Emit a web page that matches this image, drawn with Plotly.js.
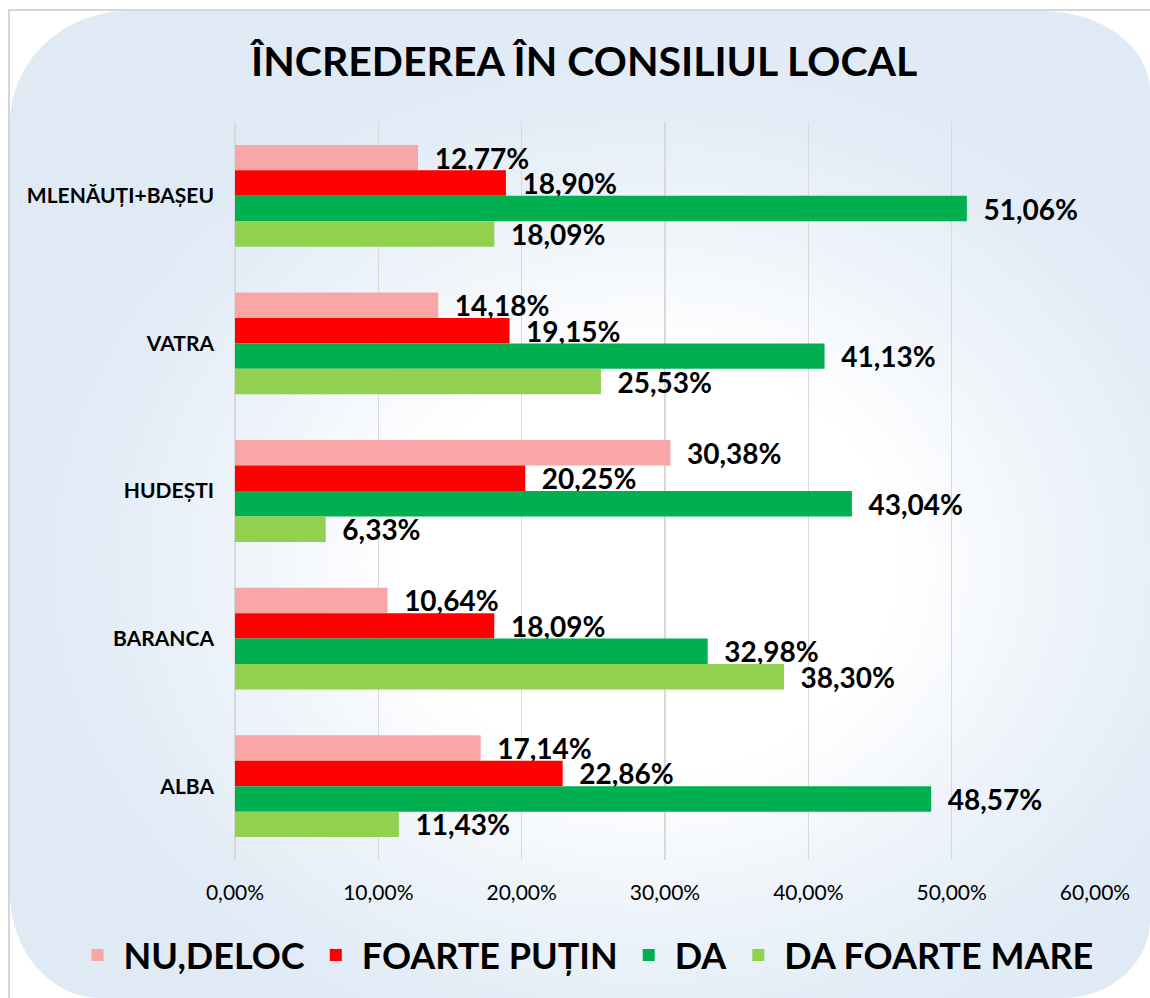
<!DOCTYPE html>
<html>
<head>
<meta charset="utf-8">
<script src="https://cdn.plot.ly/plotly-3.0.1.min.js"></script>
<style>
  html, body { margin: 0; padding: 0; background: #ffffff; width: 1150px; height: 998px; overflow: hidden; }
  #frame { position: absolute; left: 8px; top: 9px; width: 1142px; height: 989px; border-top: 2px solid #d6d6d6; border-left: 2px solid #d6d6d6; box-sizing: border-box; }
  #bg { position: absolute; left: 10px; top: 11px; width: 1140px; height: 987px;
        border-radius: 118px 108px 87px 90px / 112px 80px 78px 105px;
        background: radial-gradient(ellipse 60% 58% at 56% 56%, #ffffff 0%, #ffffff 36%, #eff4fa 60%, #e2ecf6 82%, #dfeaf5 100%); }
  #chart { position: absolute; left: 0; top: 0; width: 1150px; height: 998px; }
</style>
</head>
<body>
<div id="frame"></div>
<div id="bg"></div>
<div id="chart"></div>
<script>
const categories = ["MLENĂUȚI+BAȘEU", "VATRA", "HUDEȘTI", "BARANCA", "ALBA"];
const seriesNames = ["NU,DELOC", "FOARTE PUȚIN", "DA", "DA FOARTE MARE"];
const nuDeloc = [12.77, 14.18, 30.38, 10.64, 17.14];
const foartePutin = [18.90, 19.15, 20.25, 18.09, 22.86];
const da = [51.06, 41.13, 43.04, 32.98, 48.57];
const daFoarteMare = [18.09, 25.53, 6.33, 38.30, 11.43];
const xTicks = [0, 10, 20, 30, 40, 50, 60];
const xTickText = xTicks.map(v => v.toFixed(2).replace(".", ",") + "%");

const colors = ["#f9a6a6", "#ff0000", "#00b050", "#92d050"];
const values = [nuDeloc, foartePutin, da, daFoarteMare];
const FONT = "Lato, 'Open Sans', sans-serif";

const traces = values.map((v, i) => ({
  type: "bar",
  orientation: "h",
  name: seriesNames[i],
  y: categories,
  x: v,
  marker: { color: colors[i], line: { width: 0 } },
  texttemplate: "\u00a0\u00a0%{x:.2f}%",
  textposition: "outside",
  constraintext: "none",
  cliponaxis: false,
  textfont: { family: FONT, size: 28, color: "#000000", weight: 700 },
  hoverinfo: "skip"
}));

const layout = {
  width: 1150,
  height: 998,
  paper_bgcolor: "rgba(0,0,0,0)",
  plot_bgcolor: "rgba(0,0,0,0)",
  separators: ",.",
  margin: { l: 235, r: 55, t: 122, b: 138, pad: 0 },
  barmode: "group",
  bargap: 0.31,
  bargroupgap: 0,
  title: {
    text: "ÎNCREDEREA ÎN CONSILIUL LOCAL",
    font: { family: FONT, size: 41, color: "#000000", weight: 700 },
    x: 0.508, xref: "container", xanchor: "center",
    y: 0.938, yref: "container", yanchor: "middle"
  },
  xaxis: {
    range: [0, 60],
    tickmode: "array",
    tickvals: xTicks,
    ticktext: xTickText,
    showgrid: true,
    gridcolor: "#d9d9d9",
    gridwidth: 1.5,
    zeroline: true,
    zerolinecolor: "#d9d9d9",
    zerolinewidth: 1.5,
    showline: false,
    ticks: "",
    ticklabelstandoff: 18,
    tickfont: { family: FONT, size: 21, color: "#000000" },
    fixedrange: true
  },
  yaxis: {
    type: "category",
    categoryorder: "array",
    categoryarray: categories,
    autorange: "reversed",
    showgrid: false,
    zeroline: false,
    showline: false,
    ticks: "",
    ticklabelstandoff: 20,
    tickfont: { family: FONT, size: 21, color: "#000000", weight: 700 },
    fixedrange: true
  },
  legend: {
    orientation: "h",
    x: -0.19, xref: "paper", xanchor: "left",
    y: -0.129, yref: "paper", yanchor: "middle",
    itemwidth: 42,
    font: { family: FONT, size: 36, color: "#000000", weight: 700 },
    bgcolor: "rgba(0,0,0,0)",
    traceorder: "normal",
    itemclick: false,
    itemdoubleclick: false
  },
  showlegend: true
};

Plotly.newPlot("chart", traces, layout, { displayModeBar: false, staticPlot: true });
</script>
</body>
</html>
